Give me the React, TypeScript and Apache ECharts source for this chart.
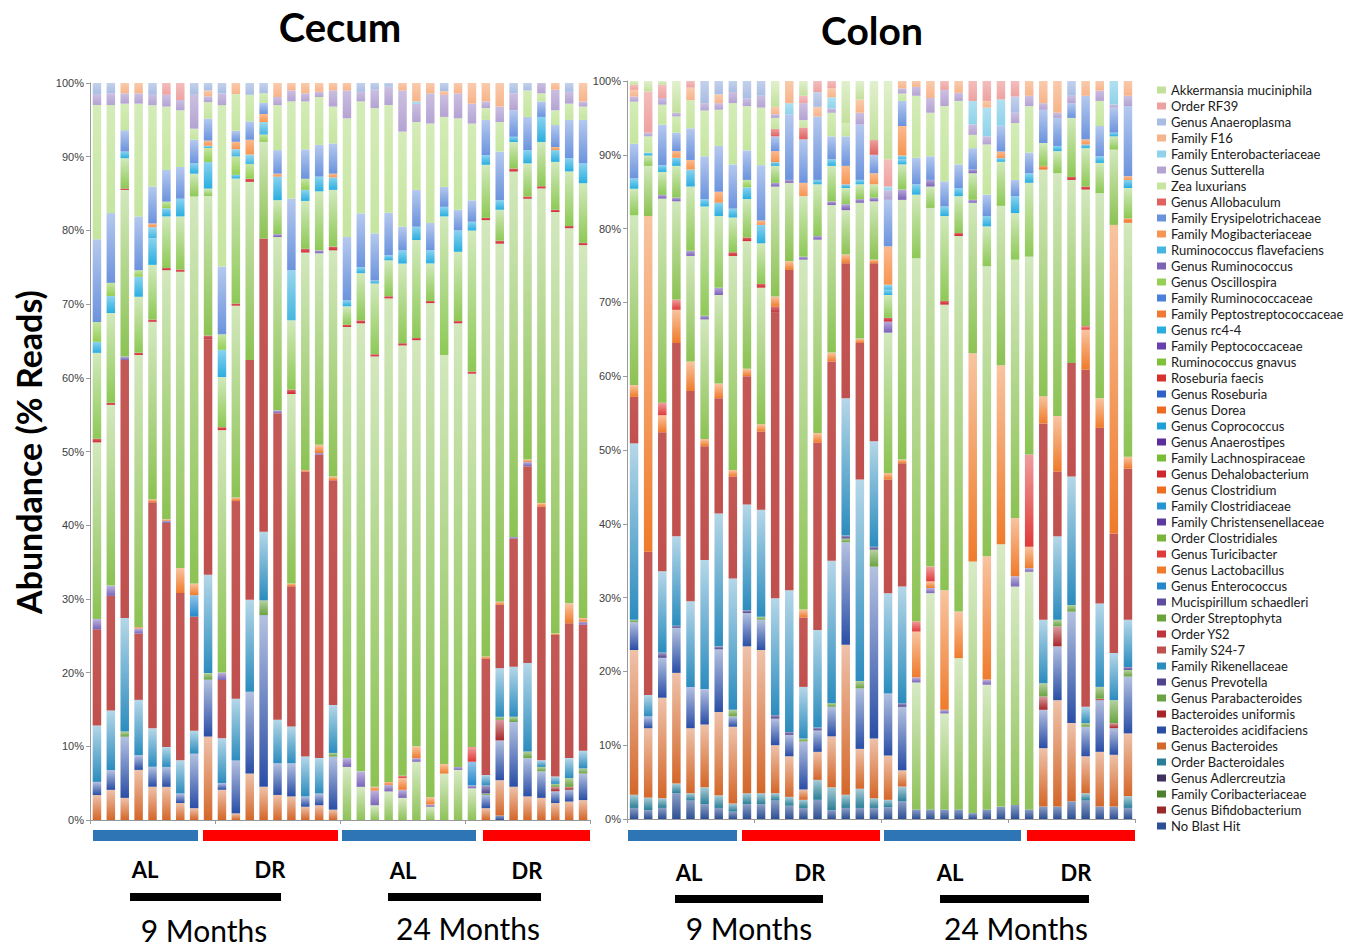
import React, { useEffect, useRef } from "react";
import * as echarts from "echarts";

// ---------- sample groups (categories) ----------
const groupLabels = ["AL", "DR", "AL", "DR"];
const groupAges = ["9 Months", "9 Months", "24 Months", "24 Months"];
const groupSizes = [8, 10, 10, 8];
const samples: string[] = [];
groupSizes.forEach((n, g) => {
  for (let k = 1; k <= n; k++) samples.push(`${groupAges[g]} ${groupLabels[g]} ${k}`);
});

// ---------- CECUM values (% reads, per sample) ----------
const cecumNoBlast = [0,0,0,0,0,0, 0,0,0,0,0,0, 0,0,0,0,0,0, 0,0,0,0,0,0, 0,0,0,0,0,0.6, 0,0,0,0,0,0];
const cecumBacteroides = [3.4,4.1,3,6.8,4.5,4.5, 2.3,1.6,11.3,4.1,0.9,6.3, 4.5,3.4,3.2,1.8,2,1.4, 0,0,0,0,0,0, 0,0,0,0,1.6,4.8, 4.5,3.2,3,2.3,2.5,2.7];
const cecumAcidifaciens = [1.8,2.7,8.3,2,2.7,2.7, 1.3,7.4,7.7,0.9,7.2,11.1, 23.3,4.3,4.5,1.4,1.6,7.2, 0,0,0,0,0,0, 0,0,0,0,1.8,5.4, 8.8,5.2,3.6,1.6,1.6,3.6];
const cecumUniformis = [0,0,0,0,0,0, 0,0,0,0,0,0, 0,0,0,0,0,0, 0,0,0,0,0,0, 0,0,0,0,0,2.8, 0,0,0,0.6,0.4,0];
const cecumParabacteroides = [0,0,0.7,0,0,0, 0,0,0.9,0,0,0, 2,0,0,0,0,0.5, 0,0,0,0,0,0, 0,0,0,0,0.2,0.4, 0.7,0.9,0.6,0.4,1.2,0.7];
const cecumPrevotella = [0,0,0,0,0,0, 0,0,0,0,0,0, 0,0,0,0,0,0, 0,0,0,0,0,0, 0,0,0,0,1.1,0, 0,0,0,0,0,0];
const cecumRikenellaceae = [7.7,8.1,15.4,7.5,5.2,2.7, 4.5,3.1,13.3,6.1,8.4,12.5, 9.3,5.9,5,5.4,4.8,6.5, 0,0,0,0,0,0, 0,0,0,0,1.4,6.6, 6.8,12,0.9,1,2.7,2.4];
const cecumS247 = [13.1,15.6,35,9,30.6,30.4, 22.7,15.5,31.9,7.9,26.9,32.5, 39.8,41.6,19,38.7,41.2,30.5, 0,0,0,0,0,0, 0,0,0,0,15.8,8.6, 17.4,26.7,34.4,19.2,18.3,17.1];
const cecumYS2 = [0,0,0,0,0,0, 0,0,0.5,0,0,0, 0,0,0,0,0,0, 0,0,0,0,0,0, 0,0,0,0,0,0, 0,0,0,0,0,0];
const cecumStreptophyta = [0,0,0,0,0,0, 0,0,0,0,0,0, 0,0,0,0,0,0, 7.2,4.5,2,3.9,3,7.9, 1.8,6.3,6.8,4.3,0,0, 0,0,0,0,0,0];
const cecumMucispirillum = [1.4,1.4,0.5,0.7,0,0.3, 0,0,0,1,0,0, 0,0.4,0,0,0.2,0, 1.2,2.1,2,0.9,1.1,0.5, 0.3,0,0.4,0.4,0,0, 0.2,0.6,0,0,0,0.4];
const cecumEnterococcus = [0,0,0,0,0,0, 0,2.9,0,0,0,0, 0,0,0,0,0,0, 0,0,0,0,0,0, 0,0,0,3.2,0,0, 0,0,0,0,0,0];
const cecumLactobacillus = [0,0,0,0.2,0.4,0.2, 3.4,1.6,0,0,0.5,0, 0,0,0.4,0.2,1.1,0.5, 0,0,0.5,0.4,1.6,1.6, 1,1.3,0,0,0.3,0.4, 0,0.3,0.5,0.2,2.7,0.5];
const cecumTuricibacter = [0,0,0,0,0,0, 0,0,0,0,0,0, 0,0,0,0,0,0, 0,0,0,0,0.3,0, 0,0,0,2,0,0, 0,0,0,0,0,0];
const cecumClostridiales = [24.1,24.6,22.6,36.9,24,33.8, 40.2,52.5,18.9,32.9,26.1,24.2, 13.1,23.5,25.7,29.5,26,30.7, 58.5,60.8,58.4,66,58.4,55.1, 67.1,55.5,60.2,50.6,59.2,48.6, 49.6,35.4,42.7,57.2,50.9,50.6];
const cecumChristensenellaceae = [0,0,0,0,0,0, 0,0,0,0,0,0, 0,0.4,0,0,0.4,0, 0,0,0,0,0,0, 0,0,0,0,0,0, 0,0,0,0,0,0];
const cecumDehalobacterium = [0.5,0.3,0.2,0.3,0.3,0.3, 0.3,0,0,0.4,0.3,0.4, 0,0,0.6,0.5,0,0.5, 0.3,0.4,0.3,0.3,0.3,0.3, 0.3,0,0.3,0.3,0.3,0.4, 0.4,0.3,0.3,0.3,0.3,0.3];
const cecumLachnospiraceae = [11.7,12.2,4.1,7.6,7.4,7, 7.2,3.1,1,6.8,17,0, 0,4.6,9.4,6.5,8,7.7, 2.5,6.4,9.6,4.9,10.8,13.3, 5.1,18.8,9.4,19.1,7.2,4.2, 3.6,4.5,6,6.5,7.4,8.1];
const cecumRc44 = [1.5,2.3,0.9,2.7,3.6,1.1, 2.4,1.4,3.6,3.7,0.5,0, 0,3.2,0,1.5,2,1.7, 0.8,0.8,0.4,0.7,1.8,1.8, 1.8,1.3,2.9,1.2,1.3,1.3, 0.7,1.8,3.4,1.6,1.8,2.7];
const cecumOscillospira = [2.7,1.8,0,0.9,0,0.9, 0,0,1.9,2.1,2.5,2, 1,0,0,1.5,0,0, 0,0,0,0,0,0, 0,0,0,0,0,0, 0,0,0,0,0,0];
const cecumFlavefaciens = [0,0,0,0,1.5,0, 0,0,0.3,0,1,1.3, 1.7,0,6.8,0,0,0, 0,0,0,0,0,0, 0,0,0,0,0,0, 0,0,0,0,0,0];
const cecumMogibacteriaceae = [0,0,0,0,0.5,0, 0,0,0.7,0,1,2, 1.1,0.4,0,0,0,0.5, 0,0,0,0,0,0, 0,0,0,0,0,0, 0,0,0,0.4,0,0];
const cecumErysipelotrichaceae = [11.3,9.5,2.9,7.3,5,4.3, 4.3,3.2,3,9.2,1.5,2.5, 1.5,3.2,9.7,4,4.3,4.1, 8.6,7.3,6.4,5.8,3.2,5, 3.7,2.7,2.8,2.9,4.8,6.6, 3.6,4.5,2.1,3,5.2,5.9];
const cecumZea = [18.3,14.7,3.6,15.3,11,8.6, 7.7,1.5,2.2,21.9,5,3.6, 1.3,6.1,13.2,6.5,6.5,5, 16.1,15.2,17,14.7,12.9,9.2, 13.5,9.5,12.4,10.4,1.6,4, 0,3.6,1.1,2,2.2,1.8];
const cecumSutterella = [1.4,1.6,1.4,1.4,1.4,1.6, 1.4,4.6,0.8,1.6,0,0, 0,1.1,1.5,1.1,0.7,2.2, 3.8,1.3,2.5,2.5,5.6,2.5, 4.1,3,3.4,2.7,0.9,2.1, 2.3,0,1.4,2.8,1.6,0.7];
const cecumEnterobacteriaceae = [0,0,0,0,0,0, 0,0,0,0,0,0, 0,0,0,0,0,0, 0,0,0,0,0,0.3, 0,0,0,0,0,0, 0,0,0,0,0,0];
const cecumF16 = [0,0,1.4,1.4,0,0, 0,0,0.8,0,1.5,0, 0,1.9,1,1.4,1.2,1, 1,0,0,0,1,2.5, 1.4,0.5,1.4,2.8,2.5,3.2, 0,0,0,0.9,0,2.5];
const cecumAnaeroplasma = [1.6,1.4,0,0,1.6,0, 0,1.6,1,1.4,0,1.6, 1.4,0,0,0,0,0, 0,1.2,0.9,0.5,0,0, 0,1.1,0,0,0,0, 1.4,1,0,0,1.2,0];
const cecumRF39 = [0,0,0,0,0,1.6, 2.3,0,0,0,0,0, 0,0,0,0,0,0, 0,0,0,0,0,0, 0,0,0,0,0,0, 0,0,0,0,0,0];

// ---------- COLON values ----------
const colonNoBlast = [1.5,1.2,1.5,3.5,2.5,2, 1.5,1,2,2,2.5,1.8, 1.5,2.6,1.2,1.5,1.5,1.5, 1.6,2.4,1.3,1.3,1.3,1.3, 0.8,1.3,1.7,1.9,1.3,1.7, 1.7,2.4,2.5,1.7,1.7,1.5];
const colonBacteroidales = [1.8,1.7,1.3,1.3,1,2.3, 1.7,1.1,1.5,1.5,1,1.2, 1.1,2.7,3.1,1.8,2.6,1.3, 1,2,0,0,0,0, 0,0,0,0,0,0, 0,0,1,0,0,1.6];
const colonBacteroides = [19.6,9.4,13.6,15,8.8,8.5, 11.3,10.4,19.9,19.4,6.5,5.5, 1.4,3.8,6.9,20.3,5.4,8.1, 6,2.2,0,0,0,0, 0,0,0,0,0,7.9, 14.4,10.6,5,7.4,7,8.5];
const colonAcidifaciens = [3.8,1.6,5.4,6.1,5.6,4.8, 8.5,1.4,4.5,4.1,3.6,2.9, 6.5,2.9,4,13.9,8.2,23.3, 8.4,8.6,0,0,0,0, 0,0,0,0,0,5.2, 7.3,15.1,4,7,3.6,7.7];
const colonUniformis = [0,0,0,0,0,0, 0,0,0,0,0,0, 0,0,0,0,0,0, 0,0,0,0,0,0, 0,0,0,0,0,1.8, 2.7,0,0,0.2,0.7,0];
const colonParabacteroides = [0.3,0,0,0,0,0, 0,0.9,0,0.4,0,0, 0.4,0,0.5,0.5,1,2.3, 0,0,0,0,0,0, 0,0,0,0,0,1.8, 0.9,0.9,0.5,1.6,3.1,0.9];
const colonPrevotella = [0,0,0.7,0.3,0,0, 0.4,0,0.4,0,0.5,0.4, 0,0.4,0,0.4,0,0.4, 0,0.5,0,0,0,0, 0,0,0,0,0,0, 0,0,0,0,0,0.4];
const colonRikenellaceae = [23.9,2.9,11,12.1,11.6,17.5, 18,17.8,14.3,14.5,15.8,19.2, 7,13.2,19.3,18.6,27.3,14.3, 13.6,15.8,0,0,0,0, 0,0,0,0,0,8.6, 11.3,17.4,2.2,11.3,6.4,6.4];
const colonS247 = [6.3,19.4,18.8,26.2,28.5,15.4, 15.6,13.8,17.4,10.6,38.7,43.4, 9.4,25.4,27,18.3,18.5,24.1, 15.4,16.7,0,0,0,0, 0,0,0,0,0,26.6, 8.8,15.4,45.7,23.8,16.2,20.5];
const colonYS2 = [0,0,0,0,0,0, 0,0,0,0,0.8,0, 0,0,0,0,0,0, 0,0,0,0,0,0, 0,0,0,0,0,0, 0,0,0,0,0,0];
const colonStreptophyta = [0,0,0,0,0,0, 0,0,0,0,0,0, 0,0,0,0,0,0, 0,0,17.2,29.3,13,20.5, 34.1,16.9,35.7,29.6,32.2,0, 0,0,0,0,0,0];
const colonMucispirillum = [0,0,0,0,0,0, 0,0,0,0,0,0, 0,0,0,0,0,0, 0,0,0.7,0.7,0.5,0, 0,0.7,0,1.4,0.5,0, 0,0,0,0,0,0];
const colonLactobacillus = [1.6,45.5,2.3,4.5,4,1, 2,0.9,1,1,1.4,1.2, 1.1,1.3,1.2,1.2,0.6,0.5, 0.9,0.5,6.2,0.9,16.2,6.3, 28.2,16.7,24.4,7.9,2.9,3.7, 7.5,0,5.4,4,41.8,1.6];
const colonTuricibacter = [0,0,1.7,1.4,0,0, 0,0,0,0,0,0, 0,0,0,0,0,0, 0,0,1.4,2,0,0, 0,0,0,0,12.5,0, 0,0,0.5,0,0,0];
const colonClostridiales = [23,6.8,27.6,13.3,14.3,16.2, 12,29,17.3,18.5,14.9,10.6, 47.4,26.2,20,6,18.4,7.9, 19,35.2,49.2,48.6,38.7,50.9, 20.4,39.3,21.7,35,26.8,30.7, 32.9,24.8,18.5,27.8,10.2,31.7];
const colonChristensenellaceae = [0,0,0.5,0.5,0.7,0.5, 1,0,0,0,0.5,0.4, 0.4,0.5,0.5,0.8,0.5,0.5, 1.5,1.4,0,0,0,0, 0.4,0,0,0,0,0, 0,0,0,0,0,0];
const colonClostridium = [0,0,0,0,0,0, 0,0,0,0,0,0, 0,0,0,0,0,0, 0,0,0,0,0,0, 0,0,0,0,0,0.5, 0,0,0,0,0,0.6];
const colonDehalobacterium = [0,0,0,0,0,0, 0,0.5,0.5,0.5,0,0, 0,0,0,0,0,0, 0.5,0,0,0,0.5,0.4, 0,0,0,0,0,0, 0,0.4,0.4,0,0,0];
const colonLachnospiraceae = [3.6,1.4,3.1,4.3,8.7,14.8, 9.7,4.7,5.2,5.5,2.3,0, 8.2,7,4.8,2.2,2,1.8, 3.1,3.4,8.6,2.9,11.5,5, 3.6,5.4,6,6.3,10,3.1, 3,8,5.2,4.1,1.8,4.1];
const colonRc44 = [1.4,0.4,0.9,1.1,2.3,1, 1.8,1.2,1.6,2.5,0.5,0, 0,0.6,0.9,0.5,0.6,0, 0.7,0.7,1.4,0,1.3,1.1, 0,1.4,0.5,2.3,1.3,0, 0.7,0,0.5,0.9,0.5,1.1];
const colonRuminococcus = [0,0,0,0,0,0, 0,0,0,0,0,0, 0,0,0,0,0,0, 0,0,0,0.9,0,0, 0.5,0,0,0,0,0, 0,0,0,0,0,0];
const colonOscillospira = [0,0,0,0,0,0, 0,0,1,0,0,0, 0,0,0,0,0,0, 0,0,0,0,0,0, 0,0,0,0,0,0, 0,0,0,0,0,0];
const colonFlavefaciens = [0,0,0,0,0,0, 0,0,0,0,0,0, 0,0,0,0,0,0, 0.7,0.5,0,0,0,0, 0,0,0,0,0,0, 0,0,0,0,0,0];
const colonMogibacteriaceae = [0,0,0,0.9,1.3,0, 1.5,0,0,0.6,1.5,0, 1.8,0,0,2.5,0,1.5, 5.2,4,0,0,0,0, 0,0,0.9,0,0,0, 0,0,0.7,0,0,0.5];
const colonErysipelotrichaceae = [4.7,0,5.5,2.5,4.3,5.8, 6.2,6,4,7.5,2,8.9, 5.9,8.6,3.1,4,7.5,2.5, 6.3,3.4,3.6,3.2,3.4,3.2, 2.9,2.9,3.5,2.2,2.8,4.5, 3.8,2,5.9,4.1,3.4,9.5];
const colonAllobaculum = [0,0,0,0,0,0, 0,0,0,0,1,0, 1.6,0,0,0,0,2, 0,0,0,0,0,0, 0,0,0,0,0,0, 0,0,0,0,0,0];
const colonZea = [5.7,2.2,2.7,2.2,3.8,6.2, 4.9,8.3,6,7.8,1.5,0, 1,0,3.2,1.8,0,0, 0,1,8.4,5.9,10.2,8.6, 1.8,6.8,0,7.7,6.3,0, 0,0,0,3.4,0,0];
const colonSutterella = [0.7,0.5,0.9,0.5,0,1, 0.9,1.5,1,1.6,0.5,0, 2.3,0,0.6,0,1.6,0, 1.3,0.7,1.2,2,2.2,1.1, 1.4,1.1,0,1.4,1.4,0.9, 0.7,1,0,1.4,0.4,1.4];
const colonEnterobacteriaceae = [0,0,0,0,0,0, 0,0,0,0,0,1.5, 0,0,1.5,0,0,0, 0.5,0,0,0,0,0, 3.2,3.9,3.6,0,0,0, 0,0,0,0,3.2,0];
const colonF16 = [0.9,0,0,0,1.7,0, 1.2,0,0,0,1,3, 0,1.3,1.2,0,1.8,0, 0,1,0.8,2.3,0,1.6, 0,0.9,0,0,2,3, 4.3,0,2,1.3,0,2];
const colonAnaeroplasma = [0,0,0,0,0,3, 1.8,1.5,2.4,2,0,0, 0,2,0,0,0,0, 0,0,0,0,0,0, 0,0,0,2.2,0,0, 0,2,0,0,0,0];
const colonRF39 = [0.7,5.6,1.8,0,0.9,0, 0,0,0,0,0,0, 1,1.5,1,0,0,0, 3.7,0,0,0,1.2,0, 2.7,2.7,2.5,2.1,0,0, 0,0,0,0,0,0];
const colonAkkermansia = [0.5,1.4,0.5,4.3,0,0, 0,0,0,0,3.5,0, 2,0,0,5.7,2.5,8, 10.6,0,0,0,0,0, 0,0,0,0,0,0, 0,0,0,0,0,0];

const NONE: number[] = [];

// ---------- taxa, bottom of stack → top ----------
// color = legend swatch; bar = darker end of the bar's vertical fill; tint = how pale the top of each segment is
type Taxon = { name: string; color: string; bar?: string; tint: number; cecum: number[]; colon: number[] };
const taxa: Taxon[] = [
  { name: "No Blast Hit", color: "#2d4f93", tint: 0.45, cecum: cecumNoBlast, colon: colonNoBlast },
  { name: "Genus Bifidobacterium", color: "#9a2a2a", tint: 0.4, cecum: NONE, colon: NONE },
  { name: "Family Coribacteriaceae", color: "#4e7f2c", tint: 0.4, cecum: NONE, colon: NONE },
  { name: "Genus Adlercreutzia", color: "#40305f", tint: 0.4, cecum: NONE, colon: NONE },
  { name: "Order Bacteroidales", color: "#2a7f98", tint: 0.6, cecum: NONE, colon: colonBacteroidales },
  { name: "Genus Bacteroides", color: "#d4672a", tint: 0.6, cecum: cecumBacteroides, colon: colonBacteroides },
  { name: "Bacteroides acidifaciens", color: "#2a4ea6", tint: 0.65, cecum: cecumAcidifaciens, colon: colonAcidifaciens },
  { name: "Bacteroides uniformis", color: "#a8262a", tint: 0.55, cecum: cecumUniformis, colon: colonUniformis },
  { name: "Genus Parabacteroides", color: "#6aa342", tint: 0.5, cecum: cecumParabacteroides, colon: colonParabacteroides },
  { name: "Genus Prevotella", color: "#50438f", tint: 0.5, cecum: cecumPrevotella, colon: colonPrevotella },
  { name: "Family Rikenellaceae", color: "#2b8cbe", tint: 0.65, cecum: cecumRikenellaceae, colon: colonRikenellaceae },
  { name: "Family S24-7", color: "#c0504d", tint: 0.05, cecum: cecumS247, colon: colonS247 },
  { name: "Order YS2", color: "#c0343e", tint: 0.3, cecum: cecumYS2, colon: colonYS2 },
  { name: "Order Streptophyta", color: "#6aa33a", bar: "#8fc25a", tint: 0.65, cecum: cecumStreptophyta, colon: colonStreptophyta },
  { name: "Mucispirillum schaedleri", color: "#5f4ba0", bar: "#7a66b8", tint: 0.5, cecum: cecumMucispirillum, colon: colonMucispirillum },
  { name: "Genus Enterococcus", color: "#2588cc", tint: 0.5, cecum: cecumEnterococcus, colon: NONE },
  { name: "Genus Lactobacillus", color: "#ef7b2b", tint: 0.55, cecum: cecumLactobacillus, colon: colonLactobacillus },
  { name: "Genus Turicibacter", color: "#e03a3a", tint: 0.5, cecum: cecumTuricibacter, colon: colonTuricibacter },
  { name: "Order Clostridiales", color: "#7ab43a", bar: "#8cc253", tint: 0.62, cecum: cecumClostridiales, colon: colonClostridiales },
  { name: "Family Christensenellaceae", color: "#5b3aa0", bar: "#7a60b8", tint: 0.45, cecum: cecumChristensenellaceae, colon: colonChristensenellaceae },
  { name: "Family Clostridiaceae", color: "#2596d2", tint: 0.4, cecum: NONE, colon: NONE },
  { name: "Genus Clostridium", color: "#ef6d1f", tint: 0.4, cecum: NONE, colon: colonClostridium },
  { name: "Genus Dehalobacterium", color: "#d0262e", tint: 0.3, cecum: cecumDehalobacterium, colon: colonDehalobacterium },
  { name: "Family Lachnospiraceae", color: "#78bd34", bar: "#8ec957", tint: 0.6, cecum: cecumLachnospiraceae, colon: colonLachnospiraceae },
  { name: "Genus Anaerostipes", color: "#5a2f9c", tint: 0.4, cecum: NONE, colon: NONE },
  { name: "Genus Coprococcus", color: "#1e9fd6", tint: 0.4, cecum: NONE, colon: NONE },
  { name: "Genus Dorea", color: "#ee6a22", tint: 0.4, cecum: NONE, colon: NONE },
  { name: "Genus Roseburia", color: "#2e62c9", tint: 0.4, cecum: NONE, colon: NONE },
  { name: "Roseburia faecis", color: "#d9312f", tint: 0.4, cecum: NONE, colon: NONE },
  { name: "Ruminococcus gnavus", color: "#7fc23a", tint: 0.4, cecum: NONE, colon: NONE },
  { name: "Family Peptococcaceae", color: "#6a3fae", tint: 0.4, cecum: NONE, colon: NONE },
  { name: "Genus rc4-4", color: "#2aaee0", tint: 0.45, cecum: cecumRc44, colon: colonRc44 },
  { name: "Family Peptostreptococcaceae", color: "#f07a34", tint: 0.4, cecum: NONE, colon: NONE },
  { name: "Family Ruminococcaceae", color: "#4a7fdc", tint: 0.4, cecum: NONE, colon: NONE },
  { name: "Genus Oscillospira", color: "#95cf55", tint: 0.45, cecum: cecumOscillospira, colon: colonOscillospira },
  { name: "Genus Ruminococcus", color: "#7d62b5", tint: 0.4, cecum: NONE, colon: colonRuminococcus },
  { name: "Ruminococcus flavefaciens", color: "#46b6e0", tint: 0.45, cecum: cecumFlavefaciens, colon: colonFlavefaciens },
  { name: "Family Mogibacteriaceae", color: "#f79552", tint: 0.35, cecum: cecumMogibacteriaceae, colon: colonMogibacteriaceae },
  { name: "Family Erysipelotrichaceae", color: "#6b93dd", tint: 0.5, cecum: cecumErysipelotrichaceae, colon: colonErysipelotrichaceae },
  { name: "Genus Allobaculum", color: "#e0615f", tint: 0.4, cecum: NONE, colon: colonAllobaculum },
  { name: "Zea luxurians", color: "#c6e5a0", tint: 0.25, cecum: cecumZea, colon: colonZea },
  { name: "Genus Sutterella", color: "#b4a3d3", tint: 0.3, cecum: cecumSutterella, colon: colonSutterella },
  { name: "Family Enterobacteriaceae", color: "#8fd3ea", tint: 0.3, cecum: cecumEnterobacteriaceae, colon: colonEnterobacteriaceae },
  { name: "Family F16", color: "#f7b48a", tint: 0.3, cecum: cecumF16, colon: colonF16 },
  { name: "Genus Anaeroplasma", color: "#a9bde3", tint: 0.3, cecum: cecumAnaeroplasma, colon: colonAnaeroplasma },
  { name: "Order RF39", color: "#eea2a0", tint: 0.3, cecum: cecumRF39, colon: colonRF39 },
  { name: "Akkermansia muciniphila", color: "#c3e09c", tint: 0.5, cecum: NONE, colon: colonAkkermansia },
];

function lighten(hex: string, t: number): string {
  const n = parseInt(hex.slice(1), 16);
  const r = (n >> 16) & 255, g = (n >> 8) & 255, b = n & 255;
  const f = (c: number) => Math.round(c + (255 - c) * t);
  return `rgb(${f(r)},${f(g)},${f(b)})`;
}

function totals(key: "cecum" | "colon"): number[] {
  return samples.map((_, i) => taxa.reduce((s, t) => s + (t[key][i] || 0), 0));
}

function buildOption() {
  const totC = totals("cecum");
  const totK = totals("colon");
  const series: any[] = [];
  taxa.forEach((t) => {
    const base = t.bar || t.color;
    const color = new echarts.graphic.LinearGradient(0, 0, 0, 1, [
      { offset: 0, color: lighten(base, t.tint) },
      { offset: 1, color: base },
    ]);
    const mk = (arr: number[], tot: number[], idx: number, stack: string) => ({
      type: "bar",
      name: t.name,
      stack,
      xAxisIndex: idx,
      yAxisIndex: idx,
      barWidth: 8.5,
      itemStyle: { color },
      emphasis: { disabled: true },
      data: arr.map((v, i) => (v > 0 ? (v / tot[i]) * 100 : null)),
    });
    series.push(mk(t.cecum, totC, 0, "cecum"));
    series.push(mk(t.colon, totK, 1, "colon"));
  });

  const yAxisBase = (grid: number) => ({
    gridIndex: grid,
    type: "value",
    min: 0,
    max: 100,
    interval: 10,
    axisLine: { show: true, lineStyle: { color: "#9a9a9a", width: 1 } },
    axisTick: { show: true, length: 4, lineStyle: { color: "#9a9a9a" } },
    splitLine: { show: false },
    axisLabel: {
      formatter: "{value}%",
      fontSize: 11,
      color: "#404040",
      margin: 6,
      fontFamily: '"Liberation Sans Narrow", "Liberation Sans", sans-serif',
    },
  });
  const xAxisBase = (grid: number) => ({
    gridIndex: grid,
    type: "category",
    data: samples,
    axisLine: { show: true, lineStyle: { color: "#9a9a9a", width: 1 } },
    axisTick: { show: true, length: 4, lineStyle: { color: "#9a9a9a" } },
    axisLabel: { show: false },
  });

  const txt = (text: string, x: number, y: number, font: string, rotation = 0) => ({
    type: "text",
    x,
    y,
    rotation,
    style: {
      text,
      font,
      fill: "#000",
      textAlign: "center",
      textVerticalAlign: "middle",
      align: "center",
      verticalAlign: "middle",
    },
  });
  const rect = (x1: number, x2: number, y: number, h: number, fill: string) => ({
    type: "rect",
    shape: { x: x1, y, width: x2 - x1, height: h },
    style: { fill },
  });
  const BLUE = "#2e75b6";
  const RED = "#ff0000";
  const graphics = [
    txt("Cecum", 340, 27, "bold 40px Lato"),
    txt("Colon", 872, 30, "bold 39px Lato"),
    txt("Abundance (% Reads)", 28, 452, "bold 34px Lato", Math.PI / 2),
    rect(93, 198, 830, 11, BLUE),
    rect(203, 338, 830, 11, RED),
    rect(342, 476, 830, 11, BLUE),
    rect(483, 590, 830, 11, RED),
    rect(628, 737, 830, 11, BLUE),
    rect(742, 880, 830, 11, RED),
    rect(884, 1021, 830, 11, BLUE),
    rect(1027, 1135, 830, 11, RED),
    txt(groupLabels[0], 145, 869, "bold 22px Lato"),
    txt(groupLabels[1], 270, 869, "bold 22px Lato"),
    txt(groupLabels[2], 403, 870, "bold 22px Lato"),
    txt(groupLabels[3], 527, 870, "bold 22px Lato"),
    txt(groupLabels[0], 689, 872, "bold 22px Lato"),
    txt(groupLabels[1], 810, 872, "bold 22px Lato"),
    txt(groupLabels[2], 950, 872, "bold 22px Lato"),
    txt(groupLabels[3], 1076, 872, "bold 22px Lato"),
    rect(130, 281, 893, 8, "#000"),
    rect(388, 541, 893, 8, "#000"),
    rect(675, 823, 895, 8, "#000"),
    rect(940, 1089, 895, 8, "#000"),
    txt(groupAges[0], 204, 930, "30px Lato"),
    txt(groupAges[2], 468, 928, "30px Lato"),
    txt(groupAges[0], 749, 928, "30px Lato"),
    txt(groupAges[2], 1016, 928, "30px Lato"),
  ];

  return {
    animation: false,
    backgroundColor: "#ffffff",
    grid: [
      { left: 90, top: 83, width: 500, height: 737 },
      { left: 627, top: 81, width: 508, height: 738 },
    ],
    xAxis: [xAxisBase(0), xAxisBase(1)],
    yAxis: [yAxisBase(0), yAxisBase(1)],
    legend: {
      orient: "vertical",
      left: 1152,
      top: 78,
      itemWidth: 9,
      itemHeight: 7,
      itemGap: 2,
      icon: "rect",
      selectedMode: false,
      textStyle: { fontSize: 13, lineHeight: 14, color: "#1a1a1a", fontFamily: "Lato" },
      data: taxa
        .slice()
        .reverse()
        .map((t) => ({ name: t.name, itemStyle: { color: t.color } })),
    },
    graphic: graphics,
    series,
  };
}

export default function App() {
  const ref = useRef<HTMLDivElement>(null);
  useEffect(() => {
    if (!ref.current) return;
    const chart = echarts.init(ref.current, undefined, { renderer: "svg" });
    chart.setOption(buildOption() as any);
    return () => chart.dispose();
  }, []);
  return (
    <div
      ref={ref}
      style={{ position: "fixed", left: 0, top: 0, width: 1356, height: 948, background: "#fff" }}
    />
  );
}
